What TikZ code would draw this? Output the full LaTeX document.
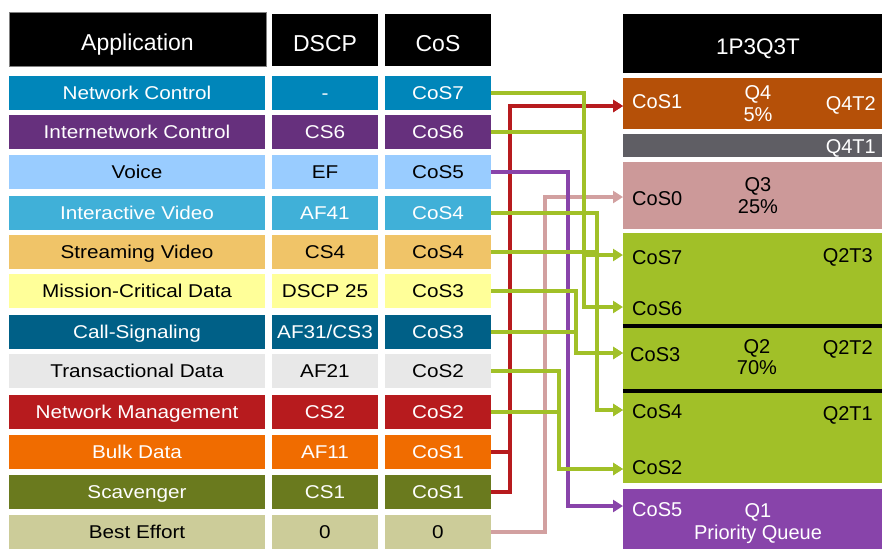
\documentclass[tikz,border=0pt]{standalone}
\usepackage{fontspec}
\setmainfont{Liberation Sans}
\newfontfamily\rowfont{Liberation Sans}[FakeStretch=1.12]
\usetikzlibrary{arrows.meta}

% table colours
\definecolor{ncblue}{RGB}{0,134,186}
\definecolor{icpurple}{RGB}{102,48,125}
\definecolor{voiceblue}{RGB}{153,204,255}
\definecolor{ivblue}{RGB}{64,176,216}
\definecolor{svorange}{RGB}{240,196,104}
\definecolor{mcyellow}{RGB}{255,255,153}
\definecolor{csteal}{RGB}{0,96,135}
\definecolor{tdgray}{RGB}{232,232,232}
\definecolor{nmred}{RGB}{183,27,30}
\definecolor{bulkorange}{RGB}{240,108,0}
\definecolor{scavolive}{RGB}{106,122,30}
\definecolor{bekhaki}{RGB}{204,204,153}
% queue colours
\definecolor{qfour}{RGB}{181,80,8}
\definecolor{qfourone}{RGB}{95,94,100}
\definecolor{qthree}{RGB}{204,153,153}
\definecolor{qtwo}{RGB}{161,192,40}
\definecolor{qone}{RGB}{136,68,170}
% connector colours
\definecolor{lgreen}{RGB}{161,192,40}
\definecolor{lred}{RGB}{183,27,30}
\definecolor{lpink}{RGB}{210,160,160}
\definecolor{lpurple}{RGB}{137,68,170}

% one row of the mapping table: index, y, fill, text colour, application, dscp, cos
\newcommand\tablerow[7]{%
  \node[cell,minimum width=256pt,fill=#3,text=#4] (a#1) at (137,#2) {#5};
  \node[cell,minimum width=106pt,fill=#3,text=#4] (d#1) at (325,#2) {#6};
  \node[cell,minimum width=106pt,fill=#3,text=#4] (c#1) at (438,#2) {#7};}

\begin{document}
\begin{tikzpicture}[x=1pt,y=-1pt,
  cell/.style={minimum height=34pt,inner sep=0pt,
    font=\rowfont\fontsize{18.5}{20}\selectfont,text height=13.2pt,text depth=0pt},
  hdr/.style={fill=black,inner sep=0pt},
  hdrtxt/.style={text=white,inner sep=0pt,
    font=\fontsize{23}{25}\selectfont,text height=16.5pt,text depth=0pt},
  qbox/.style={inner sep=0pt,minimum width=259pt},
  qtxt/.style={inner sep=0pt,font=\fontsize{20}{22}\selectfont,
    text height=14.3pt,text depth=0pt},
  conn/.style={line width=4pt,-{Triangle[length=10pt,width=12pt]}},
  gline/.style={conn,draw=lgreen},
  rline/.style={conn,draw=lred},
  kline/.style={conn,draw=lpink},
  pline/.style={conn,draw=lpurple}]
\useasboundingbox (0,0) rectangle (882,550);

% table header
\node[hdr,minimum width=257pt,minimum height=54pt,draw=gray] (happ) at (137.5,39) {};
\node[hdr,minimum width=106pt,minimum height=52pt] (hdscp) at (325,40) {};
\node[hdr,minimum width=106pt,minimum height=52pt] (hcos) at (438,40) {};
\node[hdrtxt] (happl) at (137.5,42) {Application};
\node[hdrtxt] (hdscpl) at (325,43) {DSCP};
\node[hdrtxt] (hcosl) at (438,43) {CoS};

% table rows
\tablerow{0}{93}{ncblue}{white}{Network Control}{-}{CoS7}
\tablerow{1}{132}{icpurple}{white}{Internetwork Control}{CS6}{CoS6}
\tablerow{2}{172}{voiceblue}{black}{Voice}{EF}{CoS5}
\tablerow{3}{213}{ivblue}{white}{Interactive Video}{AF41}{CoS4}
\tablerow{4}{252}{svorange}{black}{Streaming Video}{CS4}{CoS4}
\tablerow{5}{291}{mcyellow}{black}{Mission-Critical Data}{DSCP 25}{CoS3}
\tablerow{6}{332}{csteal}{white}{Call-Signaling}{AF31/CS3}{CoS3}
\tablerow{7}{371}{tdgray}{black}{Transactional Data}{AF21}{CoS2}
\tablerow{8}{412}{nmred}{white}{Network Management}{CS2}{CoS2}
\tablerow{9}{452}{bulkorange}{white}{Bulk Data}{AF11}{CoS1}
\tablerow{10}{492}{scavolive}{white}{Scavenger}{CS1}{CoS1}
\tablerow{11}{532}{bekhaki}{black}{Best Effort}{0}{0}

% queue structure
\node[qbox,fill=black,minimum height=59pt] (qh) at (752.5,43.5) {};
\node[qtxt,text=white,font=\fontsize{22.5}{24}\selectfont,text height=16.1pt] (qhl) at (758,46) {1P3Q3T};
\node[qbox,fill=qfour,minimum height=51pt] (q4) at (752.5,103.5) {};
\node[qbox,fill=qfourone,minimum height=23pt] (q4t1) at (752.5,145.5) {};
\node[qbox,fill=qthree,minimum height=67pt] (q3) at (752.5,195.5) {};
\node[qbox,fill=qtwo,minimum height=250pt] (q2) at (752.5,358) {};
\node[qbox,fill=qone,minimum height=60pt] (q1) at (752.5,519) {};
\draw[line width=4pt] (q2.west |- 0,326) coordinate (sa) -- (q2.east |- 0,326) coordinate (sb);
\draw[line width=4pt] (q2.west |- 0,391) coordinate (sc) -- (q2.east |- 0,391) coordinate (sd);

% queue labels
\node[qtxt,text=white,anchor=west] (l1) at (632,101) {CoS1};
\node[qtxt,text=white] (q4n) at (758,92.5) {Q4};
\node[qtxt,text=white] (q4p) at (758,114) {5\%};
\node[qtxt,text=white,anchor=east] (q4t2l) at (876,103) {Q4T2};
\node[qtxt,text=white,anchor=east] (q4t1l) at (876,146) {Q4T1};
\node[qtxt,anchor=west] (l0) at (632,198) {CoS0};
\node[qtxt] (q3n) at (758,184.5) {Q3};
\node[qtxt] (q3p) at (758,206) {25\%};
\node[qtxt,anchor=west] (l7) at (632,257) {CoS7};
\node[qtxt,anchor=east] (q2t3l) at (873,255) {Q2T3};
\node[qtxt,anchor=west] (l6) at (632,308) {CoS6};
\node[qtxt,anchor=west] (l3) at (630,354) {CoS3};
\node[qtxt] (q2n) at (757,346.5) {Q2};
\node[qtxt] (q2p) at (757,367) {70\%};
\node[qtxt,anchor=east] (q2t2l) at (873,347) {Q2T2};
\node[qtxt,anchor=west] (l4) at (632,411) {CoS4};
\node[qtxt,anchor=east] (q2t1l) at (873,413) {Q2T1};
\node[qtxt,anchor=west] (l2) at (632,467) {CoS2};
\node[qtxt,text=white,anchor=west] (l5) at (632,509) {CoS5};
\node[qtxt,text=white] (q1n) at (758,510) {Q1};
\node[qtxt,text=white] (q1q) at (758,532) {Priority Queue};

% arrow targets on the queue edge
\coordinate (t1) at (623,106);
\coordinate (t0) at (623,197);
\coordinate (t7) at (623,255);
\coordinate (t6) at (623,307);
\coordinate (t3) at (623,353);
\coordinate (t4) at (623,410);
\coordinate (t2) at (623,469);
\coordinate (t5) at (623,506);

% vertical runs of the connectors
\coordinate (xr) at (510,0);
\coordinate (xk) at (545,0);
\coordinate (xg4) at (559,0);
\coordinate (xp) at (568,0);
\coordinate (xg3) at (576,0);
\coordinate (xg1) at (584,0);
\coordinate (xg2) at (597,0);

% connectors
\draw[rline] (c9.east) -- (c9.east -| xr) |- (t1);
\draw[rline] (c10.east) -- (c10.east -| xr) |- (t1);
\draw[kline] (c11.east) -- (c11.east -| xk) |- (t0);
\draw[pline] (c2.east) -- (c2.east -| xp) |- (t5);
\draw[gline] (c0.east) -- (c0.east -| xg1) |- (t7);
\draw[gline] (c1.east) -- (c1.east -| xg1) |- (t6);
\draw[gline] (c3.east) -- (c3.east -| xg2) |- (t4);
\draw[gline] (c4.east) -- (c4.east -| xg2) |- (t4);
\draw[gline] (c5.east) -- (c5.east -| xg3) |- (t3);
\draw[gline] (c6.east) -- (c6.east -| xg3) |- (t3);
\draw[gline] (c7.east) -- (c7.east -| xg4) |- (t2);
\draw[gline] (c8.east) -- (c8.east -| xg4) |- (t2);
\end{tikzpicture}
\end{document}
